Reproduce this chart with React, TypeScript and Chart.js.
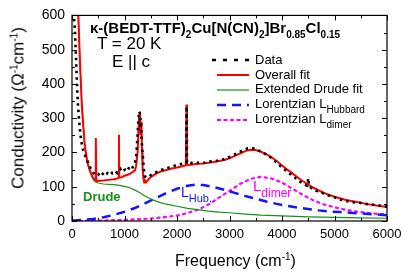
import React, { useEffect, useRef } from "react";
import { Chart, registerables } from "chart.js";

Chart.register(...registerables);

// ---------- data ----------
const DATA_X = [40, 55, 65, 75, 85, 95, 105, 115, 125, 140, 155, 170, 190, 215, 240, 265, 290, 320, 350, 380, 410, 440, 470, 500, 530, 560, 590, 620, 650, 680, 710, 740, 770, 800, 830, 860, 890, 920, 950, 980, 1010, 1040, 1070, 1100, 1130, 1160, 1190, 1220, 1245, 1265, 1280, 1292, 1302, 1312, 1322, 1335, 1350, 1370, 1390, 1420, 1450, 1480, 1520, 1560, 1600, 1650, 1700, 1750, 1800, 1850, 1900, 1950, 2000, 2050, 2100, 2150, 2175, 2183, 2191, 2250, 2300, 2350, 2400, 2450, 2500, 2550, 2600, 2650, 2700, 2750, 2800, 2850, 2900, 2950, 3000, 3050, 3100, 3150, 3200, 3250, 3300, 3350, 3400, 3450, 3500, 3550, 3600, 3650, 3700, 3750, 3800, 3850, 3900, 3950, 4000, 4050, 4100, 4150, 4200, 4250, 4300, 4350, 4400, 4450, 4480, 4500, 4520, 4550, 4600, 4650, 4700, 4750, 4800, 4850, 4900, 4950, 5000, 5050, 5100, 5150, 5200, 5300, 5400, 5500, 5600, 5700, 5800, 5900, 6000];
const DATA_Y = [590, 560, 520, 480, 440, 400, 365, 335, 315, 285, 260, 240, 222, 205, 195, 185, 178, 165, 155, 148, 140, 136, 132, 135, 140, 133, 138, 142, 136, 140, 138, 144, 139, 141, 146, 140, 148, 152, 143, 147, 150, 145, 152, 156, 150, 158, 165, 185, 240, 295, 320, 315, 270, 300, 250, 215, 190, 150, 130, 127, 128, 132, 135, 138, 142, 146, 149, 151, 153, 156, 158, 161, 163, 165, 167, 168, 168, 335, 170, 170, 169, 171, 170, 172, 170, 171, 172, 174, 176, 175, 177, 179, 180, 184, 187, 190, 194, 198, 202, 206, 209, 212, 213, 212, 210, 206, 203, 198, 194, 190, 183, 177, 170, 163, 156, 150, 145, 138, 131, 126, 120, 114, 110, 105, 103, 125, 100, 97, 92, 88, 86, 83, 80, 76, 74, 71, 69, 66, 63, 61, 59, 56, 54, 53, 50, 48, 46, 44, 42];

const FIT_X = [100, 120, 150, 190, 240, 290, 340, 400, 440, 450, 457, 464, 500, 600, 700, 800, 860, 890, 895, 900, 950, 1000, 1100, 1200, 1220, 1250, 1270, 1285, 1295, 1305, 1315, 1325, 1335, 1345, 1360, 1375, 1390, 1410, 1450, 1500, 1600, 1700, 1800, 1900, 2000, 2100, 2170, 2180, 2190, 2300, 2400, 2500, 2600, 2700, 2800, 2900, 3000, 3100, 3200, 3300, 3400, 3500, 3600, 3700, 3800, 3900, 4000, 4100, 4200, 4300, 4400, 4500, 4600, 4700, 4800, 4900, 5000, 5200, 5400, 5600, 5800, 6000];
const FIT_Y = [700, 600, 470, 330, 225, 172, 148, 126, 119, 118, 242, 118, 117, 118, 120, 122, 124, 126, 252, 126, 128, 132, 137, 148, 160, 200, 280, 312, 300, 250, 290, 270, 200, 150, 125, 112, 118, 113, 120, 128, 138, 145, 149, 153, 156, 160, 162, 340, 163, 165, 167, 168, 170, 172, 175, 178, 183, 190, 197, 204, 208, 207, 202, 195, 186, 175, 162, 150, 139, 127, 116, 106, 97, 89, 82, 76, 71, 62, 56, 50, 45, 41];

const DRUDE_X = [100, 120, 150, 185, 220, 250, 300, 350, 400, 450, 500, 600, 700, 800, 900, 1000, 1100, 1200, 1300, 1400, 1500, 1600, 1700, 1800, 2000, 2200, 2400, 2600, 2800, 3000, 3300, 3600, 4000, 4500, 5000, 5500, 6000];
const DRUDE_Y = [700, 600, 470, 345, 270, 215, 165, 140, 122, 114, 111, 108, 107, 106, 104, 101, 97, 90, 82, 72, 64, 58, 53, 49, 43, 37, 33, 29, 26, 24, 20, 17, 15, 12, 10.5, 9, 8];

const HUB_X = [0, 200, 400, 600, 800, 1000, 1200, 1400, 1600, 1800, 2000, 2200, 2350, 2500, 2700, 2900, 3100, 3300, 3500, 3700, 3900, 4100, 4300, 4500, 4700, 4900, 5100, 5300, 5500, 5700, 6000];
const HUB_Y = [1, 3, 6, 11, 18, 27, 38, 52, 67, 82, 94, 103, 106, 105, 99, 91, 82, 73, 65, 57, 50, 44, 39, 35, 31, 28, 26, 24, 22, 20, 17];

const DIM_X = [0, 500, 1000, 1500, 1800, 2000, 2200, 2400, 2600, 2800, 3000, 3200, 3400, 3600, 3800, 4000, 4200, 4400, 4600, 4800, 5000, 5200, 5400, 5600, 5800, 6000];
const DIM_Y = [0.5, 1, 3, 7, 12, 16, 23, 33, 48, 68, 88, 108, 123, 129, 124, 112, 94, 76, 60, 48, 40, 33, 28, 24, 21, 19];

const X_TICKS = [0, 1000, 2000, 3000, 4000, 5000, 6000];
const Y_TICKS = [0, 100, 200, 300, 400, 500, 600];

const LEGEND_LABELS = ["Data", "Overall fit", "Extended Drude fit", "Lorentzian L", "Lorentzian L"];
const LEGEND_SUBS = ["", "", "", "Hubbard", "dimer"];

const FONT = '"Liberation Sans", Arial, sans-serif';

const pts = (xs: number[], ys: number[]) => xs.map((x, i) => ({ x, y: ys[i] }));

const framePlugin = {
  id: "frame",
  afterDatasetsDraw(chart: any) {
    const { ctx, chartArea: a, scales } = chart;
    const xs = scales.x;
    const ys = scales.y;
    ctx.save();
    ctx.strokeStyle = "#000";
    ctx.lineWidth = 1.2;
    ctx.setLineDash([]);
    ctx.strokeRect(a.left, a.top, a.right - a.left, a.bottom - a.top);
    ctx.lineWidth = 1;
    for (let v = 0; v <= 6000; v += 500) {
      const p = Math.round(xs.getPixelForValue(v)) + 0.5;
      const len = v % 1000 === 0 ? 5 : 3;
      ctx.beginPath();
      ctx.moveTo(p, a.bottom);
      ctx.lineTo(p, a.bottom - len);
      ctx.moveTo(p, a.top);
      ctx.lineTo(p, a.top + len);
      ctx.stroke();
    }
    for (let v = 0; v <= 600; v += 50) {
      const p = Math.round(ys.getPixelForValue(v)) + 0.5;
      const len = v % 100 === 0 ? 5 : 3;
      ctx.beginPath();
      ctx.moveTo(a.left, p);
      ctx.lineTo(a.left + len, p);
      ctx.moveTo(a.right, p);
      ctx.lineTo(a.right - len, p);
      ctx.stroke();
    }
    // legend samples
    const rows = [60, 75, 90, 105, 120];
    chart.data.datasets.forEach((ds: any, i: number) => {
      ctx.beginPath();
      ctx.strokeStyle = ds.borderColor;
      ctx.lineWidth = ds.borderWidth;
      ctx.setLineDash(i === 0 ? [4, 7] : ds.borderDash || []);
      ctx.moveTo(i === 0 ? 212 : 217, rows[i]);
      ctx.lineTo(249, rows[i]);
      ctx.stroke();
    });
    ctx.restore();
  },
};

export default function App() {
  const ref = useRef<HTMLCanvasElement>(null);
  useEffect(() => {
    if (!ref.current) return;
    const chart = new Chart(ref.current, {
      type: "line",
      data: {
        datasets: [
          { label: "Data", data: pts(DATA_X, DATA_Y), borderColor: "#000000", borderWidth: 2.6, borderDash: [2.5, 4], pointRadius: 0, fill: false },
          { label: "Overall fit", data: pts(FIT_X, FIT_Y), borderColor: "#ff0000", borderWidth: 2, pointRadius: 0, fill: false },
          { label: "Extended Drude fit", data: pts(DRUDE_X, DRUDE_Y), borderColor: "#1a8f1a", borderWidth: 1.2, pointRadius: 0, fill: false },
          { label: "Lorentzian L Hubbard", data: pts(HUB_X, HUB_Y), borderColor: "#1414ff", borderWidth: 2.5, borderDash: [9, 6], pointRadius: 0, fill: false },
          { label: "Lorentzian L dimer", data: pts(DIM_X, DIM_Y), borderColor: "#ff00ff", borderWidth: 2.2, borderDash: [4, 2.5], pointRadius: 0, fill: false },
        ] as any,
      },
      options: {
        responsive: false,
        animation: false,
        devicePixelRatio: 1,
        layout: { padding: { top: 11, right: 22, left: 0, bottom: 0 } },
        plugins: { legend: { display: false }, tooltip: { enabled: false } },
        scales: {
          x: {
            type: "linear",
            min: 0,
            max: 6000,
            afterFit: (s: any) => { s.height = 51; },
            afterBuildTicks: (s: any) => { s.ticks = X_TICKS.map((v) => ({ value: v })); },
            grid: { display: false, drawTicks: false },
            border: { display: false },
            ticks: { color: "#000", padding: 6, maxRotation: 0, font: { family: FONT, size: 13 }, callback: (v: any) => String(v) },
          },
          y: {
            type: "linear",
            min: 0,
            max: 600,
            afterFit: (s: any) => { s.width = 72; },
            afterBuildTicks: (s: any) => { s.ticks = Y_TICKS.map((v) => ({ value: v })); },
            grid: { display: false, drawTicks: false },
            border: { display: false },
            ticks: { color: "#000", padding: 7, font: { family: FONT, size: 14 }, callback: (v: any) => String(v) },
          },
        },
      } as any,
      plugins: [framePlugin],
    });
    return () => chart.destroy();
  }, []);

  const abs = (left: number, top: number, extra: any = {}) => ({
    position: "absolute" as const,
    left,
    top,
    whiteSpace: "nowrap" as const,
    fontFamily: FONT,
    color: "#000",
    ...extra,
  });
  const sub = (fs: number, shift: number) => ({ fontSize: fs, position: "relative" as const, top: shift });
  const legendTops = [53, 68, 82, 97, 112];

  return (
    <div style={{ position: "fixed", left: 0, top: 0, width: 409, height: 272, background: "#fff" }}>
      <canvas ref={ref} width={409} height={272} style={{ width: 409, height: 272, display: "block" }} />
      <div style={abs(90, 20, { fontSize: 15, fontWeight: "bold", lineHeight: "15px" })}>
        κ-(BEDT-TTF)<span style={sub(10, 5)}>2</span>Cu[N(CN)<span style={sub(10, 5)}>2</span>]Br<span style={sub(10, 5)}>0.85</span>Cl<span style={sub(10, 5)}>0.15</span>
      </div>
      <div style={abs(97, 35, { fontSize: 17, lineHeight: "17px" })}>T = 20 K</div>
      <div style={abs(112, 53, { fontSize: 17, lineHeight: "17px" })}>E || c</div>
      {LEGEND_LABELS.map((t, i) => (
        <div key={i} style={abs(255, legendTops[i], { fontSize: 13, lineHeight: "13px" })}>
          {t}
          {LEGEND_SUBS[i] ? <span style={sub(10, 5)}>{LEGEND_SUBS[i]}</span> : null}
        </div>
      ))}
      <div style={abs(83, 190, { fontSize: 13, fontWeight: "bold", lineHeight: "13px", color: "#1a8f1a" })}>Drude</div>
      <div style={abs(181, 185, { fontSize: 14, lineHeight: "14px", color: "#1414ff" })}>
        L<span style={sub(11, 5)}>Hub.</span>
      </div>
      <div style={abs(253, 178, { fontSize: 15, lineHeight: "15px", color: "#ff00ff" })}>
        L<span style={sub(12, 6)}>dimer</span>
      </div>
      <div style={abs(175, 253, { fontSize: 16, lineHeight: "16px" })}>
        Frequency (cm<span style={sub(10, -6)}>-1</span>)
      </div>
      <div
        style={abs(19, 108, {
          fontSize: 17,
          lineHeight: "17px",
          transform: "translate(-50%, -50%) rotate(-90deg)",
        })}
      >
        Conductivity (Ω<span style={sub(10, -6)}>-1</span>cm<span style={sub(10, -6)}>-1</span>)
      </div>
    </div>
  );
}
